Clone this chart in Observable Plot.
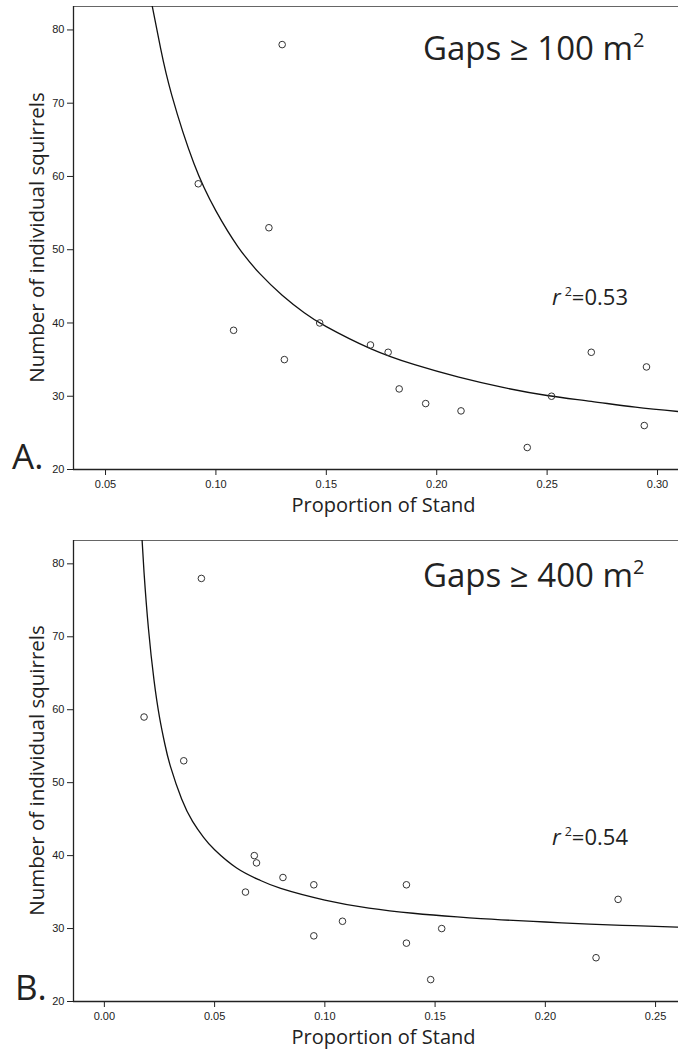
<!DOCTYPE html>
<html>
<head>
<meta charset="utf-8">
<script src="https://cdn.jsdelivr.net/npm/d3@7"></script>
<script src="https://cdn.jsdelivr.net/npm/@observablehq/plot@0.6"></script>
<style>
  body { margin: 0; background: #fff; }
  #chart svg { display: block; }
</style>
</head>
<body>
<div id="chart"></div>
<script>
// ---------- data ----------
const yTicks = [20, 30, 40, 50, 60, 70, 80];
const yDomain = [20, 83.2];

// Panel A: gaps >= 100 m2
const gapsA_x = [0.092, 0.130, 0.124, 0.108, 0.131, 0.147, 0.170, 0.178, 0.183, 0.195, 0.211, 0.241, 0.252, 0.270, 0.295, 0.294];
const gapsA_y = [59, 78, 53, 39, 35, 40, 37, 36, 31, 29, 28, 23, 30, 36, 34, 26];
const fitA_x = [0.0708, 0.075, 0.08, 0.09, 0.10, 0.11, 0.12, 0.13, 0.14, 0.15, 0.17, 0.19, 0.21, 0.23, 0.25, 0.27, 0.29, 0.31];
const fitA_y = [83.8, 77.4, 71.1, 61.8, 55.3, 50.4, 46.7, 43.8, 41.4, 39.5, 36.5, 34.3, 32.6, 31.2, 30.1, 29.3, 28.5, 27.9];
const xTicksA = [0.05, 0.10, 0.15, 0.20, 0.25, 0.30];
const xDomainA = [0.0355, 0.3095];

// Panel B: gaps >= 400 m2
const gapsB_x = [0.018, 0.044, 0.036, 0.068, 0.069, 0.064, 0.081, 0.095, 0.095, 0.108, 0.137, 0.137, 0.148, 0.153, 0.223, 0.233];
const gapsB_y = [59, 78, 53, 40, 39, 35, 37, 36, 29, 31, 36, 28, 23, 30, 26, 34];
const fitB_x = [0.0168, 0.018, 0.02, 0.0225, 0.025, 0.0275, 0.03, 0.035, 0.04, 0.045, 0.05, 0.06, 0.07, 0.08, 0.10, 0.12, 0.14, 0.16, 0.18, 0.20, 0.22, 0.24, 0.26];
const fitB_y = [84.8, 78.8, 71.1, 64.1, 59.0, 55.2, 52.2, 47.8, 44.7, 42.5, 40.8, 38.3, 36.7, 35.5, 33.9, 32.8, 32.1, 31.6, 31.2, 30.9, 30.6, 30.4, 30.2];
const xTicksB = [0.00, 0.05, 0.10, 0.15, 0.20, 0.25];
const xDomainB = [-0.014, 0.2604];

const labelFont = "'Open Sans', 'Noto Sans', sans-serif";

function panel(o) {
  const pts = o.xs.map((x, i) => ({x, y: o.ys[i]}));
  const fit = o.fx.map((x, i) => ({x, y: o.fy[i]}));
  const svgEl = Plot.plot({
    width: 678,
    height: o.height,
    marginLeft: 73,
    marginRight: 0,
    marginTop: o.mt,
    marginBottom: o.mb,
    style: {background: "white", fontFamily: "'Liberation Sans', Arial, sans-serif", fontSize: "11px", color: "#222"},
    x: {domain: o.xDomain, ticks: o.xTicks, tickFormat: d3.format(".2f"), tickSize: 6, tickPadding: 5, label: null},
    y: {domain: yDomain, ticks: yTicks, tickSize: 6, tickPadding: 3, label: null},
    marks: [
      Plot.ruleY([yDomain[1]], {stroke: "#666", strokeWidth: 1.2}),
      Plot.ruleY([yDomain[0]], {stroke: "#222", strokeWidth: 1.3}),
      Plot.ruleX([o.xDomain[0]], {stroke: "#222", strokeWidth: 1.3}),
      Plot.line(fit, {x: "x", y: "y", curve: "natural", stroke: "#111", strokeWidth: 1.3, clip: true}),
      Plot.dot(pts, {x: "x", y: "y", r: 3.3, stroke: "#333", strokeWidth: 1, fill: "none"})
    ]
  });
  const svg = d3.select(svgEl);
  const g = svg.append("g").attr("font-family", labelFont).attr("fill", "#222").attr("text-anchor", "start");
  // panel letter
  g.append("text").attr("x", o.letterX).attr("y", o.letterY).attr("font-size", 35).text(o.letter);
  // title
  const t = g.append("text").attr("x", 423).attr("y", o.titleY).attr("font-size", 33);
  t.append("tspan").text(o.title);
  t.append("tspan").attr("font-size", 20).attr("dy", -13).text("2");
  // r squared
  const r = g.append("text").attr("x", 552).attr("y", o.rY).attr("font-size", 22);
  r.append("tspan").attr("font-style", "italic").text("r");
  r.append("tspan").attr("font-size", 12.5).attr("dx", 4).attr("dy", -9).text("2");
  r.append("tspan").attr("dy", 9).text("=" + o.r2);
  // axis labels
  g.append("text").attr("transform", `translate(43.5,${o.yLabelY}) rotate(-90)`)
    .attr("text-anchor", "middle").attr("font-size", 20.5).text("Number of individual squirrels");
  g.append("text").attr("x", 383.5).attr("y", o.xLabelY).attr("text-anchor", "middle")
    .attr("font-size", 20).text("Proportion of Stand");
  return svgEl;
}

const chart = document.getElementById("chart");
chart.appendChild(panel({
  xs: gapsA_x, ys: gapsA_y, fx: fitA_x, fy: fitA_y, xTicks: xTicksA, xDomain: xDomainA,
  height: 520, mt: 6, mb: 51,
  letter: "A.", letterX: 12, letterY: 469,
  title: "Gaps \u2265 100 m", titleY: 60,
  r2: "0.53", rY: 305,
  yLabelY: 237.5, xLabelY: 512
}));
chart.appendChild(panel({
  xs: gapsB_x, ys: gapsB_y, fx: fitB_x, fy: fitB_y, xTicks: xTicksB, xDomain: xDomainB,
  height: 531, mt: 20, mb: 50,
  letter: "B.", letterX: 15, letterY: 480,
  title: "Gaps \u2265 400 m", titleY: 66.7,
  r2: "0.54", rY: 325,
  yLabelY: 250.5, xLabelY: 524
}));
</script>
</body>
</html>
